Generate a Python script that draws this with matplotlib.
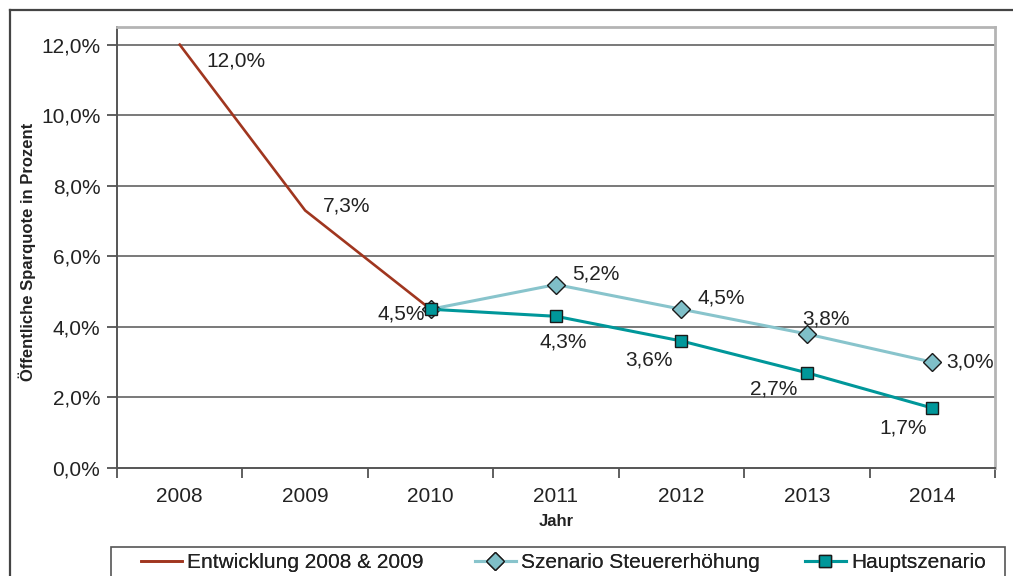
import matplotlib
matplotlib.use("Agg")
import matplotlib.pyplot as plt
from matplotlib.patches import Rectangle
from matplotlib.lines import Line2D

plt.rcParams['font.family'] = ['Liberation Sans', 'DejaVu Sans']

years = ['2008', '2009', '2010', '2011', '2012', '2013', '2014']
entwicklung = [12.0, 7.3, 4.5]            # 2008-2010
steuer = [4.5, 5.2, 4.5, 3.8, 3.0]        # 2010-2014
haupt = [4.5, 4.3, 3.6, 2.7, 1.7]         # 2010-2014

lab_ent = ['12,0%', '7,3%', '4,5%']
lab_steuer = [None, '5,2%', '4,5%', '3,8%', '3,0%']
lab_haupt = [None, '4,3%', '3,6%', '2,7%', '1,7%']

W, H = 1013, 576
fig = plt.figure(figsize=(W / 100, H / 100), dpi=100)
ax = fig.add_axes([117 / W, 1 - 468 / H, (995 - 117) / W, (468 - 27) / H])

c_red = '#A0361F'
c_light = '#88C4CC'
c_dark = '#00979A'
txt = '#222222'

x_ent = list(range(0, 3))
x_sc = list(range(2, 7))

ax.plot(x_ent, entwicklung, color=c_red, lw=1.9, zorder=3, label='Entwicklung 2008 & 2009')
ax.plot(x_sc, steuer, color=c_light, lw=2.2, marker='D', ms=9, mfc='#7FBFC8',
        mec='#1a1a1a', mew=1.0, zorder=4, label='Szenario Steuererhöhung')
ax.plot(x_sc, haupt, color=c_dark, lw=2.2, marker='s', ms=8.8, mfc=c_dark,
        mec='#1a1a1a', mew=1.0, zorder=5, label='Hauptszenario')

fs = 15
def lab(x, y, s, dx, dy, ha='center'):
    ax.annotate(s, (x, y), xytext=(dx, dy), textcoords='offset pixels',
                ha=ha, va='center', fontsize=fs, color=txt, zorder=6)

ent_off = [(56, -16, 'center'), (41, 4, 'center'), (-6, -5, 'right')]
for x, y, s, (dx, dy, ha) in zip(x_ent, entwicklung, lab_ent, ent_off):
    lab(x, y, s, dx, dy, ha)
st_off = [None, (40, 11), (40, 11), (19, 15), (38, 0)]
for x, y, s, o in zip(x_sc, steuer, lab_steuer, st_off):
    if s:
        lab(x, y, s, o[0], o[1])
h_off = [None, (7, -26), (-32, -19), (-33, -16), (-29, -20)]
for x, y, s, o in zip(x_sc, haupt, lab_haupt, h_off):
    if s:
        lab(x, y, s, o[0], o[1])

ax.set_xlim(-0.5, 6.5)
ax.set_ylim(0, 12.5)
ax.set_yticks([0, 2, 4, 6, 8, 10, 12])
ax.set_yticklabels(['0,0%', '2,0%', '4,0%', '6,0%', '8,0%', '10,0%', '12,0%'])
ax.set_xticks(range(7))
ax.set_xticklabels(years)
ax.set_xticks([i - 0.5 for i in range(8)], minor=True)
ax.tick_params(axis='x', which='major', length=0, pad=14, labelsize=fs, labelcolor=txt)
ax.tick_params(axis='x', which='minor', length=7, width=1.2, color='#444444', direction='out')
ax.tick_params(axis='y', length=7, width=1.2, color='#444444', direction='out', pad=5,
               labelsize=fs, labelcolor=txt)

for y in [2, 4, 6, 8, 10, 12]:
    ax.axhline(y, color='#555555', lw=1.1, zorder=1)

ax.spines['left'].set_color('#555555')
ax.spines['left'].set_linewidth(1.4)
ax.spines['bottom'].set_color('#555555')
ax.spines['bottom'].set_linewidth(1.4)
ax.spines['top'].set_color('#b4b4b4')
ax.spines['top'].set_linewidth(2)
ax.spines['right'].set_color('#b4b4b4')
ax.spines['right'].set_linewidth(2)

fig.text(27 / W, 1 - 252 / H, 'Öffentliche Sparquote in Prozent', rotation=90,
         ha='center', va='center', fontsize=12, fontweight='bold', color=txt)
fig.text(556 / W, 1 - 522 / H, 'Jahr', ha='center', va='center', fontsize=12,
         fontweight='bold', color=txt)

# outer frame
fig.add_artist(Line2D([10 / W, 10 / W], [0, 1 - 10 / H], transform=fig.transFigure,
                      color='#444444', lw=1.6))
fig.add_artist(Line2D([10 / W, 1], [1 - 10 / H, 1 - 10 / H], transform=fig.transFigure,
                      color='#444444', lw=1.6))

# legend box
fig.add_artist(Rectangle((111 / W, -0.05), (1005 - 111) / W, 1 - 547 / H + 0.05,
                         transform=fig.transFigure, fill=False, edgecolor='#555555', lw=1.2))
handles, labels = ax.get_legend_handles_labels()
xs = [141, 475, 805]
for h, l, x in zip(handles, labels, xs):
    leg = fig.legend([h], [l], loc='center left', bbox_to_anchor=(x / W, 1 - 563 / H),
                     frameon=False, borderpad=0, borderaxespad=0, handlelength=1.95,
                     handletextpad=0.25, fontsize=fs, labelcolor=txt)
    fig.add_artist(leg)

fig.savefig('out.png', dpi=100)
